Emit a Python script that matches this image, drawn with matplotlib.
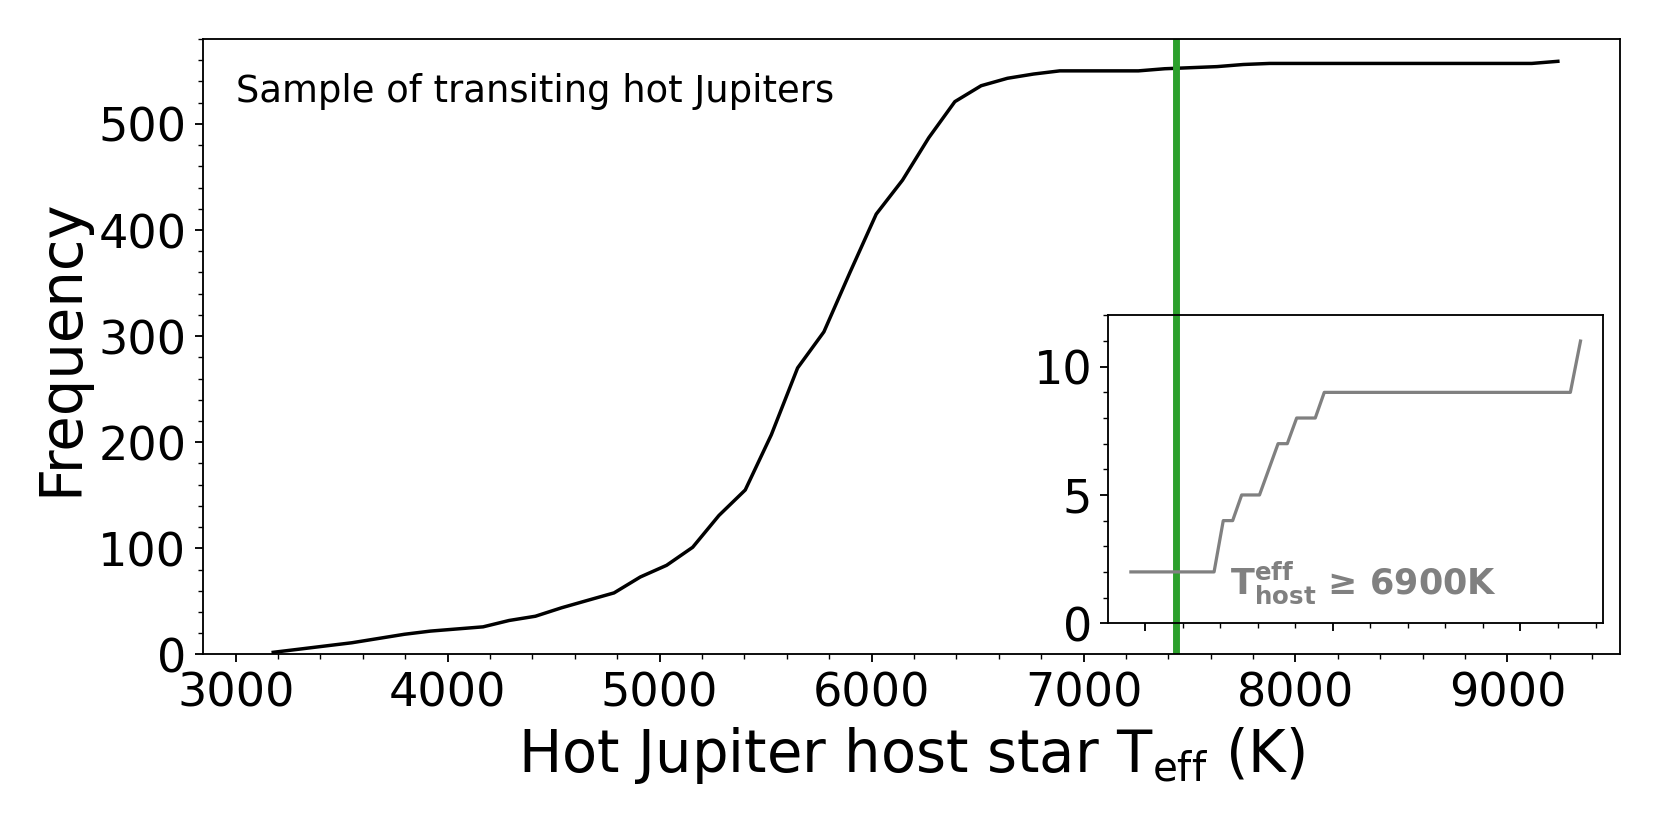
import matplotlib
matplotlib.use("Agg")
import matplotlib.pyplot as plt
from matplotlib.ticker import MultipleLocator

# Main cumulative distribution (bin centres, K) and cumulative counts
teff_centres = [3177, 3301, 3424, 3548, 3672, 3796, 3919, 4043, 4167, 4290,
                4414, 4538, 4661, 4785, 4909, 5033, 5156, 5280, 5404, 5527,
                5651, 5775, 5898, 6022, 6146, 6270, 6393, 6517, 6641, 6764,
                6888, 7012, 7135, 7259, 7383, 7507, 7630, 7754, 7878, 8001,
                8125, 8249, 8372, 8496, 8620, 8743, 8867, 8991, 9115, 9238]
cum_counts = [2, 5, 8, 11, 15, 19, 22, 24, 26, 32,
              36, 44, 51, 58, 73, 84, 101, 131, 155, 207,
              270, 304, 360, 415, 447, 487, 521, 536, 543, 547,
              550, 550, 550, 550, 552, 553, 554, 556, 557, 557,
              557, 557, 557, 557, 557, 557, 557, 557, 557, 559]

# Inset: hot hosts (Teff >= 6900 K), cumulative counts
hot_teff = [6925, 7368, 7417, 7467, 7515, 7610, 7709, 7758, 7808, 7907, 7955, 9266, 9320]
hot_cum = [2, 2, 4, 4, 5, 5, 7, 7, 8, 8, 9, 9, 11]

teff_marker = 7434

fig = plt.figure(figsize=(10.0, 5.0), dpi=166.1)
ax = fig.add_axes([0.1220, 0.2114, 0.8533, 0.7410])
ax.plot(teff_centres, cum_counts, color="black", lw=1.5)
ax.axvline(teff_marker, color="#2ca02c", lw=3)
ax.set_xlim(2844, 9531)
ax.set_ylim(0, 580)
ax.xaxis.set_major_locator(MultipleLocator(1000))
ax.xaxis.set_minor_locator(MultipleLocator(200))
ax.yaxis.set_major_locator(MultipleLocator(100))
ax.yaxis.set_minor_locator(MultipleLocator(20))
ax.tick_params(labelsize=20)
ax.set_xlabel(r"Hot Jupiter host star T$_{\rm eff}$ (K)", fontsize=25)
ax.set_ylabel("Frequency", fontsize=25)
ax.text(0.0235, 0.899, "Sample of transiting hot Jupiters", transform=ax.transAxes,
        fontsize=16, va="baseline", ha="left")

ins = fig.add_axes([0.6673, 0.2490, 0.2978, 0.3706])
ins.patch.set_alpha(0.0)
ins.plot(hot_teff, hot_cum, color="grey", lw=1.4)
ins.set_xlim(6805, 9440)
ins.set_ylim(0, 12)
ins.xaxis.set_major_locator(MultipleLocator(1000))
ins.xaxis.set_minor_locator(MultipleLocator(200))
ins.yaxis.set_major_locator(MultipleLocator(5))
ins.yaxis.set_minor_locator(MultipleLocator(1))
ins.tick_params(labelsize=20, labelbottom=False)
ins.text(0.245, 0.0975, r"$\mathbf{T^{eff}_{host}}$ ≥ 6900K", transform=ins.transAxes,
         fontsize=15.2, fontweight="bold", color="grey", va="baseline", ha="left")

fig.savefig("out.png", dpi=166.1)
